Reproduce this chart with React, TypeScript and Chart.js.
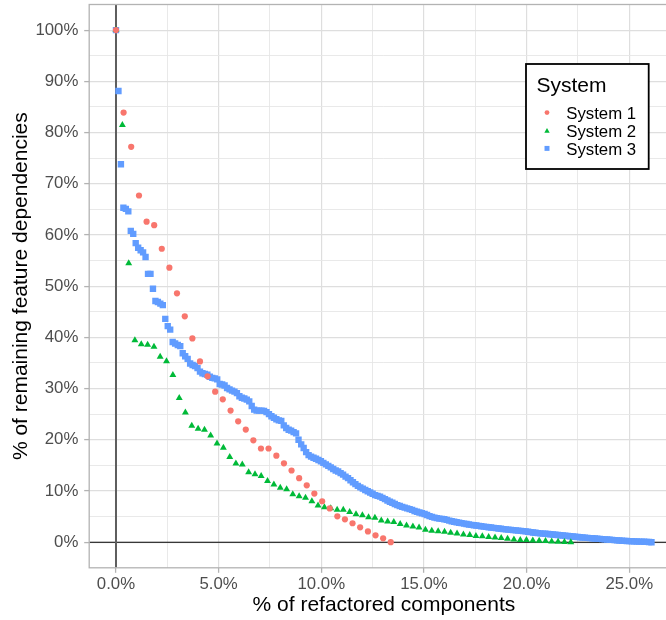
import React, { useEffect, useRef } from "react";
import { Chart, registerables } from "chart.js";

Chart.register(...registerables);

const FONT = '"Liberation Sans", Arial, Helvetica, sans-serif';

const seriesLabels = ["System 1", "System 2", "System 3"];
const seriesColors = ["#F8766D", "#00BA38", "#619CFF"];
const seriesShapes = ["circle", "triangle", "rect"];
const seriesRadius = [3.1, 4.0, 4.5];

const legendTitle = "System";
const xAxisTitle = "% of refactored components";
const yAxisTitle = "% of remaining feature dependencies";

const xTickValues = [0, 2.5, 5, 7.5, 10, 12.5, 15, 17.5, 20, 22.5, 25];
const xTickLabels = ["0.0%", "", "5.0%", "", "10.0%", "", "15.0%", "", "20.0%", "", "25.0%"];
const yTickValues = [0, 5, 10, 15, 20, 25, 30, 35, 40, 45, 50, 55, 60, 65, 70, 75, 80, 85, 90, 95, 100];
const yTickLabels = ["0%", "", "10%", "", "20%", "", "30%", "", "40%", "", "50%", "", "60%", "", "70%", "", "80%", "", "90%", "", "100%"];

const system1X = [
  0, 0.37, 0.74, 1.12, 1.49, 1.86, 2.23, 2.6, 2.97, 3.35,
  3.72, 4.09, 4.46, 4.83, 5.2, 5.58, 5.95, 6.32, 6.69, 7.06,
  7.43, 7.81, 8.18, 8.55, 8.92, 9.29, 9.66, 10.04, 10.41, 10.78,
  11.15, 11.52, 11.89, 12.27, 12.64, 13.01, 13.38,
];
const system1Y = [
  100, 83.9, 77.2, 67.7, 62.6, 61.9, 57.3, 53.6, 48.6, 44.1,
  39.8, 35.3, 32.4, 29.4, 27.9, 25.7, 23.6, 22.0, 19.9, 18.3,
  18.3, 16.9, 15.4, 14.0, 12.5, 11.1, 9.5, 8.0, 6.6, 5.05,
  4.47, 3.7, 2.9, 2.1, 1.35, 0.76, 0,
];

const system2X = [
  0, 0.31, 0.62, 0.92, 1.23, 1.54, 1.85, 2.15, 2.46, 2.77,
  3.08, 3.38, 3.69, 4.0, 4.31, 4.61, 4.92, 5.23, 5.54, 5.84,
  6.15, 6.46, 6.77, 7.07, 7.38, 7.69, 8.0, 8.31, 8.61, 8.92,
  9.23, 9.54, 9.84, 10.15, 10.46, 10.77, 11.07, 11.38, 11.69, 12.0,
  12.3, 12.61, 12.92, 13.23, 13.53, 13.84, 14.15, 14.46, 14.76, 15.07,
  15.38, 15.69, 16.0, 16.3, 16.61, 16.92, 17.23, 17.53, 17.84, 18.15,
  18.46, 18.76, 19.07, 19.38, 19.69, 19.99, 20.3, 20.61, 20.92, 21.22,
  21.53, 21.84, 22.15,
];
const system2Y = [
  100, 81.45, 54.45, 39.45, 38.65, 38.55, 38.15, 36.2, 35.35, 32.65,
  28.15, 25.35, 22.75, 22.15, 21.95, 20.85, 19.25, 18.45, 16.65, 15.35,
  15.15, 13.65, 13.25, 12.95, 11.95, 11.25, 10.65, 10.35, 9.35, 8.95,
  8.7, 8.0, 7.15, 6.8, 6.65, 6.35, 6.35, 5.9, 5.45, 5.25,
  4.85, 4.75, 4.25, 4.05, 3.95, 3.55, 3.25, 3.05, 2.85, 2.45,
  2.25, 2.15, 2.05, 1.85, 1.7, 1.5, 1.4, 1.2, 1.15, 1.0,
  0.9, 0.8, 0.67, 0.55, 0.42, 0.42, 0.35, 0.28, 0.22, 0.15,
  0.1, 0.05, 0,
];

const system3X = [
  0, 0.12, 0.24, 0.36, 0.48, 0.6, 0.72, 0.84, 0.96, 1.08,
  1.2, 1.32, 1.44, 1.56, 1.68, 1.8, 1.92, 2.04, 2.16, 2.28,
  2.4, 2.52, 2.64, 2.76, 2.88, 3.01, 3.13, 3.25, 3.37, 3.49,
  3.61, 3.73, 3.85, 3.97, 4.09, 4.21, 4.33, 4.45, 4.57, 4.69,
  4.81, 4.93, 5.05, 5.17, 5.29, 5.41, 5.53, 5.65, 5.77, 5.89,
  6.01, 6.13, 6.25, 6.37, 6.49, 6.61, 6.73, 6.85, 6.97, 7.09,
  7.21, 7.33, 7.45, 7.57, 7.69, 7.81, 7.93, 8.05, 8.17, 8.29,
  8.41, 8.53, 8.65, 8.77, 8.89, 9.02, 9.14, 9.26, 9.38, 9.5,
  9.62, 9.74, 9.86, 9.98, 10.1, 10.22, 10.34, 10.46, 10.58, 10.7,
  10.82, 10.94, 11.06, 11.18, 11.3, 11.42, 11.54, 11.66, 11.78, 11.9,
  12.02, 12.14, 12.26, 12.38, 12.5, 12.62, 12.74, 12.86, 12.98, 13.1,
  13.22, 13.34, 13.46, 13.58, 13.7, 13.82, 13.94, 14.06, 14.18, 14.3,
  14.42, 14.54, 14.66, 14.78, 14.9, 15.03, 15.15, 15.27, 15.39, 15.51,
  15.63, 15.75, 15.87, 15.99, 16.11, 16.23, 16.35, 16.47, 16.59, 16.71,
  16.83, 16.95, 17.07, 17.19, 17.31, 17.43, 17.55, 17.67, 17.79, 17.91,
  18.03, 18.15, 18.27, 18.39, 18.51, 18.63, 18.75, 18.87, 18.99, 19.11,
  19.23, 19.35, 19.47, 19.59, 19.71, 19.83, 19.95, 20.07, 20.19, 20.31,
  20.43, 20.55, 20.67, 20.79, 20.91, 21.04, 21.16, 21.28, 21.4, 21.52,
  21.64, 21.76, 21.88, 22.0, 22.12, 22.24, 22.36, 22.48, 22.6, 22.72,
  22.84, 22.96, 23.08, 23.2, 23.32, 23.44, 23.56, 23.68, 23.8, 23.92,
  24.04, 24.16, 24.28, 24.4, 24.52, 24.64, 24.76, 24.88, 25.0, 25.12,
  25.24, 25.36, 25.48, 25.6, 25.72, 25.84, 25.96, 26.08,
];
const system3Y = [
  100, 88.1, 73.8, 65.3, 65.1, 64.6, 60.8, 60.2, 58.4, 57.5,
  57.0, 56.6, 55.7, 52.4, 52.4, 49.5, 47.1, 46.9, 46.6, 46.3,
  43.6, 42.2, 41.5, 39.1, 38.8, 38.5, 38.3, 36.9, 36.3, 35.8,
  34.9, 34.6, 34.4, 34.0, 33.3, 33.0, 32.85, 32.7, 32.3, 32.1,
  32.0, 31.8, 30.9, 30.8, 30.6, 30.1, 29.85, 29.6, 29.4, 29.1,
  28.5, 28.2, 28.05, 27.85, 27.5, 26.6, 25.9, 25.7, 25.7, 25.7,
  25.65, 25.4, 25.0, 24.6, 24.3, 24.0, 23.8, 23.7, 22.8, 22.3,
  21.95, 21.8, 21.5, 21.25, 20.0, 19.1, 18.4, 17.6, 17.0, 16.7,
  16.5, 16.3, 16.05, 15.8, 15.5, 15.2, 14.9, 14.6, 14.3, 14.0,
  13.8, 13.5, 13.2, 12.8, 12.5, 12.1, 11.7, 11.35, 11.0, 10.7,
  10.45, 10.2, 9.95, 9.7, 9.45, 9.2, 9.05, 8.9, 8.65, 8.4,
  8.15, 7.9, 7.7, 7.45, 7.25, 7.06, 6.9, 6.75, 6.6, 6.45,
  6.3, 6.1, 5.95, 5.8, 5.65, 5.5, 5.3, 5.1, 4.95, 4.8,
  4.7, 4.6, 4.55, 4.47, 4.35, 4.2, 4.1, 4.0, 3.9, 3.8,
  3.72, 3.62, 3.55, 3.45, 3.38, 3.3, 3.25, 3.18, 3.12, 3.05,
  2.98, 2.92, 2.87, 2.8, 2.74, 2.67, 2.62, 2.55, 2.5, 2.45,
  2.4, 2.35, 2.3, 2.25, 2.2, 2.15, 2.1, 2.03, 1.97, 1.9,
  1.84, 1.77, 1.72, 1.68, 1.64, 1.6, 1.55, 1.5, 1.45, 1.4,
  1.35, 1.3, 1.26, 1.22, 1.17, 1.12, 1.07, 1.02, 0.96, 0.92,
  0.88, 0.84, 0.8, 0.76, 0.72, 0.68, 0.64, 0.6, 0.56, 0.52,
  0.48, 0.44, 0.4, 0.36, 0.32, 0.29, 0.26, 0.23, 0.2, 0.18,
  0.16, 0.14, 0.12, 0.1, 0.08, 0.06, 0.03, 0,
];

const seriesX = [system1X, system2X, system3X];
const seriesY = [system1Y, system2Y, system3Y];

function drawShape(ctx: CanvasRenderingContext2D, shape: string, x: number, y: number, r: number) {
  ctx.beginPath();
  if (shape === "circle") {
    ctx.arc(x, y, r, 0, Math.PI * 2);
  } else if (shape === "triangle") {
    ctx.moveTo(x, y - r);
    ctx.lineTo(x + r * 0.866, y + r * 0.5);
    ctx.lineTo(x - r * 0.866, y + r * 0.5);
    ctx.closePath();
  } else {
    const h = r * Math.SQRT1_2;
    ctx.rect(x - h, y - h, 2 * h, 2 * h);
  }
  ctx.fill();
}

const panelPlugin = {
  id: "ggPanel",
  beforeDatasetsDraw(chart: any) {
    const { ctx, chartArea: a, scales } = chart;
    const x0 = scales.x.getPixelForValue(0);
    const y0 = scales.y.getPixelForValue(0);
    ctx.save();
    ctx.beginPath();
    ctx.rect(a.left, a.top, a.right - a.left, a.bottom - a.top);
    ctx.clip();
    ctx.strokeStyle = "#000000";
    ctx.lineWidth = 1.1;
    ctx.beginPath();
    ctx.moveTo(a.left, y0);
    ctx.lineTo(a.right, y0);
    ctx.stroke();
    ctx.strokeStyle = "#5E5E5E";
    ctx.lineWidth = 2;
    ctx.beginPath();
    ctx.moveTo(x0, a.top);
    ctx.lineTo(x0, a.bottom);
    ctx.stroke();
    ctx.restore();
  },
  afterDatasetsDraw(chart: any) {
    const { ctx, chartArea: a } = chart;
    ctx.save();
    ctx.strokeStyle = "#B3B3B3";
    ctx.lineWidth = 1.3;
    ctx.strokeRect(a.left, a.top, a.right - a.left, a.bottom - a.top);

    // legend box
    const bx = 526, by = 64, bw = 122.7, bh = 105;
    ctx.fillStyle = "#FFFFFF";
    ctx.fillRect(bx, by, bw, bh);
    ctx.strokeStyle = "#000000";
    ctx.lineWidth = 1.8;
    ctx.strokeRect(bx, by, bw, bh);
    ctx.fillStyle = "#000000";
    ctx.textAlign = "left";
    ctx.textBaseline = "alphabetic";
    ctx.font = `21px ${FONT}`;
    ctx.fillText(legendTitle, 536.5, 91.7);
    ctx.font = `16.8px ${FONT}`;
    chart.data.datasets.forEach((ds: any, i: number) => {
      const cy = 112.6 + i * 17.9;
      ctx.fillStyle = ds.pointBackgroundColor;
      drawShape(ctx, ds.pointStyle, 547, cy + (ds.pointStyle === "triangle" ? 0.6 : 0), ds.pointRadius * 0.78);
      ctx.fillStyle = "#000000";
      ctx.fillText(ds.label, 566.2, 119 + i * 17.85);
    });
    ctx.restore();
  },
};

export default function App() {
  const ref = useRef<HTMLCanvasElement>(null);

  useEffect(() => {
    const canvas = ref.current;
    if (!canvas) return;

    const datasets = seriesLabels.map((label, s) => ({
      label,
      data: seriesX[s].map((x, i) => ({ x, y: seriesY[s][i] })),
      pointStyle: seriesShapes[s],
      pointRadius: seriesRadius[s],
      pointBackgroundColor: seriesColors[s],
      backgroundColor: seriesColors[s],
      pointBorderWidth: 0,
      borderWidth: 0,
      showLine: false,
    }));

    const isMajor = (ticks: number[], labels: string[], v: number) => {
      const k = ticks.indexOf(v);
      return k >= 0 && labels[k] !== "";
    };

    const chart = new Chart(canvas, {
      type: "scatter",
      data: { datasets } as any,
      options: {
        responsive: false,
        animation: false,
        devicePixelRatio: 1,
        events: [],
        layout: { padding: { top: 4, right: 21.4, left: 0, bottom: 0 } },
        plugins: {
          legend: { display: false },
          tooltip: { enabled: false },
        },
        scales: {
          x: {
            type: "linear",
            min: -1.305,
            max: 27.4,
            afterBuildTicks: (s: any) => {
              s.ticks = xTickValues.map((v) => ({ value: v }));
            },
            afterFit: (s: any) => {
              s.height = 52.2;
              s.paddingLeft = 0;
              s.paddingRight = 0;
            },
            border: { display: false },
            grid: {
              color: (c: any) => (isMajor(xTickValues, xTickLabels, c.tick?.value) ? "#DEDEDE" : "#E6E6E6"),
              lineWidth: (c: any) => (isMajor(xTickValues, xTickLabels, c.tick?.value) ? 1.2 : 0.9),
              tickLength: 5,
              tickWidth: 1.3,
              tickColor: (c: any) => (isMajor(xTickValues, xTickLabels, c.tick?.value) ? "#B3B3B3" : "rgba(0,0,0,0)"),
            },
            ticks: {
              autoSkip: false,
              maxRotation: 0,
              minRotation: 0,
              padding: 1.3,
              color: "#4D4D4D",
              font: { family: FONT, size: 16.8 },
              callback: (v: any) => {
                const k = xTickValues.indexOf(Number(v));
                return k >= 0 ? xTickLabels[k] : "";
              },
            },
            title: {
              display: true,
              text: xAxisTitle,
              color: "#000000",
              font: { family: FONT, size: 21 },
              padding: { top: 0, bottom: 1.7 },
            },
          },
          y: {
            type: "linear",
            min: -5,
            max: 105,
            afterBuildTicks: (s: any) => {
              s.ticks = yTickValues.map((v) => ({ value: v }));
            },
            afterFit: (s: any) => {
              s.width = 89.2;
              s.paddingTop = 0;
              s.paddingBottom = 0;
            },
            border: { display: false },
            grid: {
              color: (c: any) => (isMajor(yTickValues, yTickLabels, c.tick?.value) ? "#DEDEDE" : "#E6E6E6"),
              lineWidth: (c: any) => (isMajor(yTickValues, yTickLabels, c.tick?.value) ? 1.2 : 0.9),
              tickLength: 5,
              tickWidth: 1.3,
              tickColor: (c: any) => (isMajor(yTickValues, yTickLabels, c.tick?.value) ? "#B3B3B3" : "rgba(0,0,0,0)"),
            },
            ticks: {
              autoSkip: false,
              padding: 5.9,
              color: "#4D4D4D",
              font: { family: FONT, size: 16.8 },
              callback: (v: any) => {
                const k = yTickValues.indexOf(Number(v));
                return k >= 0 ? yTickLabels[k] : "";
              },
            },
            title: {
              display: true,
              text: yAxisTitle,
              color: "#000000",
              font: { family: FONT, size: 21 },
              padding: { top: 8.4, bottom: 0 },
            },
          },
        },
      } as any,
      plugins: [panelPlugin],
    });

    return () => chart.destroy();
  }, []);

  return (
    <div style={{ position: "fixed", left: 0, top: 0, width: 666, height: 620, overflow: "hidden", background: "#FFFFFF" }}>
      <canvas ref={ref} width={700} height={620} style={{ width: 700, height: 620, display: "block" }} />
    </div>
  );
}
